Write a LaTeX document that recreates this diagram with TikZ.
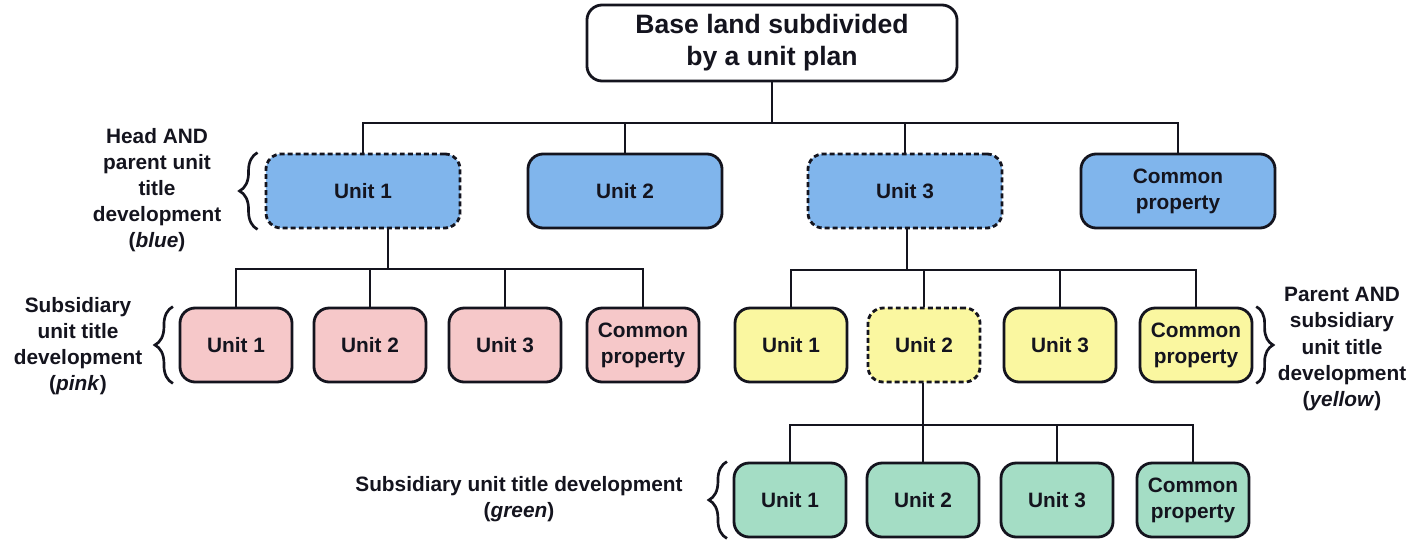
\documentclass[tikz,border=0pt]{standalone}
\usepackage{fontspec}
\setmainfont{Liberation Sans}
\usetikzlibrary{decorations.pathreplacing}
\definecolor{unitblue}{RGB}{128,181,236}
\definecolor{unitpink}{RGB}{246,200,201}
\definecolor{unityellow}{RGB}{250,247,160}
\definecolor{unitgreen}{RGB}{164,221,197}
\definecolor{ink}{RGB}{20,20,30}

\begin{document}
\begin{tikzpicture}[x=0.025cm, y=-0.025cm, font=\fontsize{14.8}{18.5}\selectfont\bfseries,
	unit/.style={rectangle, rounded corners=0.38cm, draw=ink, text=ink, line width=2pt, minimum width=4.85cm, minimum height=1.85cm, align=center, inner sep=0pt},
	small/.style={unit, minimum width=2.8cm},
	parent/.style={dash pattern=on 3.5pt off 2.2pt},
	tie/.style={draw=ink, line width=1.8pt},
	group/.style={draw=ink, decorate, decoration={brace, amplitude=0.45cm}, line width=1.9pt},
	note/.style={align=center, text=ink}]
		\useasboundingbox (0,0) rectangle (1414,545);
		\node (base) [unit, fill=white, minimum width=9.25cm, minimum height=1.9cm, font=\fontsize{18.9}{22.8}\selectfont\bfseries] at (772,43) {Base land subdivided\\by a unit plan};
		%head development
		\node (headU1) [unit, parent, fill=unitblue] at (363,191) {Unit 1};
		\node (headU2) [unit, fill=unitblue] at (625,191) {Unit 2};
		\node (headU3) [unit, parent, fill=unitblue] at (905,191) {Unit 3};
		\node (headCP) [unit, fill=unitblue] at (1178,191) {Common\\property};
		%subsidiary of unit 1
		\node (pinkU1) [small, fill=unitpink] at (236,345) {Unit 1};
		\node (pinkU2) [small, fill=unitpink] at (370,345) {Unit 2};
		\node (pinkU3) [small, fill=unitpink] at (505,345) {Unit 3};
		\node (pinkCP) [small, fill=unitpink] at (643,345) {Common\\property};
		%subsidiary of unit 3
		\node (yelU1) [small, fill=unityellow] at (791,345) {Unit 1};
		\node (yelU2) [small, parent, fill=unityellow] at (924,345) {Unit 2};
		\node (yelU3) [small, fill=unityellow] at (1060,345) {Unit 3};
		\node (yelCP) [small, fill=unityellow] at (1196,345) {Common\\property};
		%subsidiary of unit 2
		\node (grnU1) [small, fill=unitgreen] at (790,500) {Unit 1};
		\node (grnU2) [small, fill=unitgreen] at (923,500) {Unit 2};
		\node (grnU3) [small, fill=unitgreen] at (1057,500) {Unit 3};
		\node (grnCP) [small, fill=unitgreen] at (1193,500) {Common\\property};
		%Verbindungen
		\coordinate (baseJ) at (772,123);
		\coordinate (pinkJ) at (388,269);
		\coordinate (yelJ) at (907,270);
		\coordinate (grnJ) at (923,425);
		\draw [tie] (base) -- (baseJ);
		\foreach \n in {headU1, headU2, headU3, headCP} \draw [tie] (baseJ) -| (\n.north);
		\draw [tie] (headU1.south -| pinkJ) -- (pinkJ);
		\foreach \n in {pinkU1, pinkU2, pinkU3, pinkCP} \draw [tie] (pinkJ) -| (\n.north);
		\draw [tie] (headU3.south -| yelJ) -- (yelJ);
		\foreach \n in {yelU1, yelU2, yelU3, yelCP} \draw [tie] (yelJ) -| (\n.north);
		\draw [tie] (yelU2.south -| grnJ) -- (grnJ);
		\foreach \n in {grnU1, grnU2, grnU3, grnCP} \draw [tie] (grnJ) -| (\n.north);
		%Klammern
		\draw [group] ([xshift=-5pt]headU1.south west) -- ([xshift=-5pt]headU1.north west);
		\draw [group] ([xshift=-4pt]pinkU1.south west) -- ([xshift=-4pt]pinkU1.north west);
		\draw [group, decoration={amplitude=0.42cm}] ([xshift=2pt]yelCP.north east) -- ([xshift=2pt]yelCP.south east);
		\draw [group] ([xshift=-4pt]grnU1.south west) -- ([xshift=-4pt]grnU1.north west);
		\node (blueNote) [note] at (157,190) {Head AND\\parent unit\\title\\development\\(\textit{blue})};
		\node (pinkNote) [note] at (78,346) {Subsidiary\\unit title\\development\\(\textit{pink})};
		\node (yelNote) [note] at (1342,349) {Parent AND\\subsidiary\\unit title\\development\\(\textit{yellow})};
		\node (grnNote) [note] at (519,499) {Subsidiary unit title development\\(\textit{green})};
	\end{tikzpicture}
\end{document}
